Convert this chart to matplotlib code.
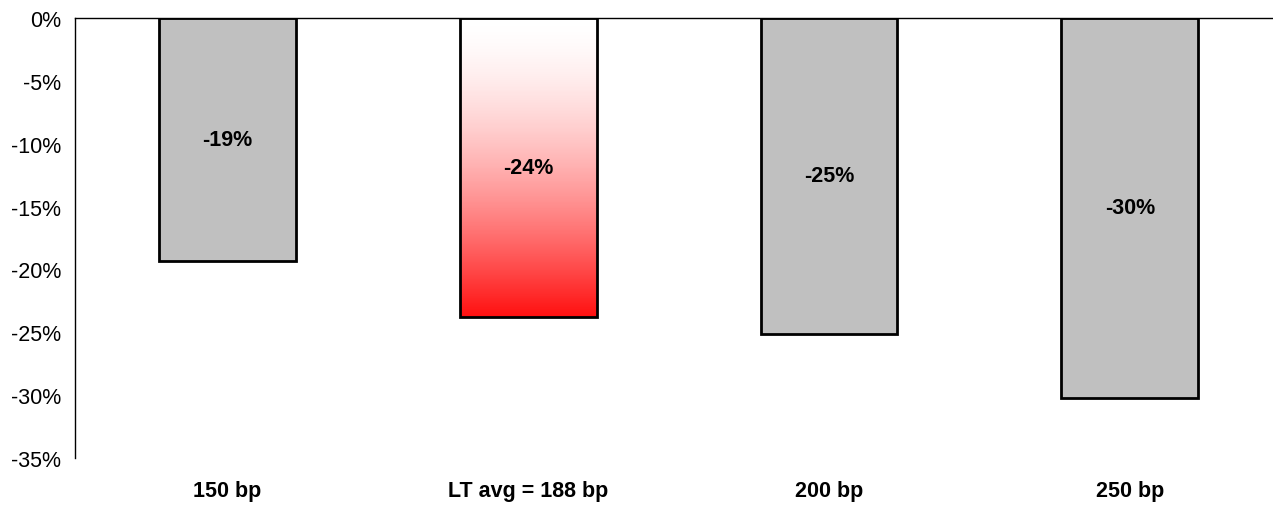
import numpy as np
import matplotlib.pyplot as plt
from matplotlib.colors import LinearSegmentedColormap

categories = ['150 bp', 'LT avg = 188 bp', '200 bp', '250 bp']
values = [-19.3, -23.8, -25.1, -30.2]
labels = ['-19%', '-24%', '-25%', '-30%']
yticks = [0, -5, -10, -15, -20, -25, -30, -35]

plt.rcParams['font.family'] = ['Liberation Sans', 'DejaVu Sans']

fig = plt.figure(figsize=(12.73, 5.06), dpi=100)
ax = fig.add_axes([0.0589, 0.0929, 0.9411, 0.8696])

x = np.arange(len(categories))
bars = ax.bar(x, values, width=0.455, color='#c0c0c0', edgecolor='black', linewidth=2, zorder=2)

# gradient fill for the long-term average bar (white at top, red at bottom)
cmap = LinearSegmentedColormap.from_list('wr', ['#ffffff', '#ff1010'])
b = bars[1]
b.set_facecolor('none')
x0, w, h = b.get_x(), b.get_width(), b.get_height()
grad = (np.linspace(0, 1, 256) ** 1.6).reshape(-1, 1)
im = ax.imshow(grad, cmap=cmap, aspect='auto', extent=[x0, x0 + w, h, 0],
               origin='upper', zorder=1.5, vmin=0, vmax=1)
im.set_clip_path(b)

for i, v in enumerate(values):
    ax.text(x[i], v / 2, labels[i], ha='center', va='center', fontsize=15.5, fontweight='bold', zorder=3)

ax.set_xlim(-0.507, 3.476)
ax.set_ylim(-35, 0)
ax.set_yticks(yticks)
ax.set_yticklabels([f'{t}%' for t in yticks], fontsize=15.5)
ax.set_xticks(x)
ax.set_xticklabels(categories, fontsize=15.5, fontweight='bold')
ax.tick_params(axis='both', length=0)
ax.tick_params(axis='x', pad=16)
ax.tick_params(axis='y', pad=10)

ax.spines['bottom'].set_visible(False)
ax.spines['right'].set_visible(False)
ax.spines['top'].set_linewidth(1.0)
ax.spines['left'].set_linewidth(1.0)

fig.savefig('out.png', dpi=100)
